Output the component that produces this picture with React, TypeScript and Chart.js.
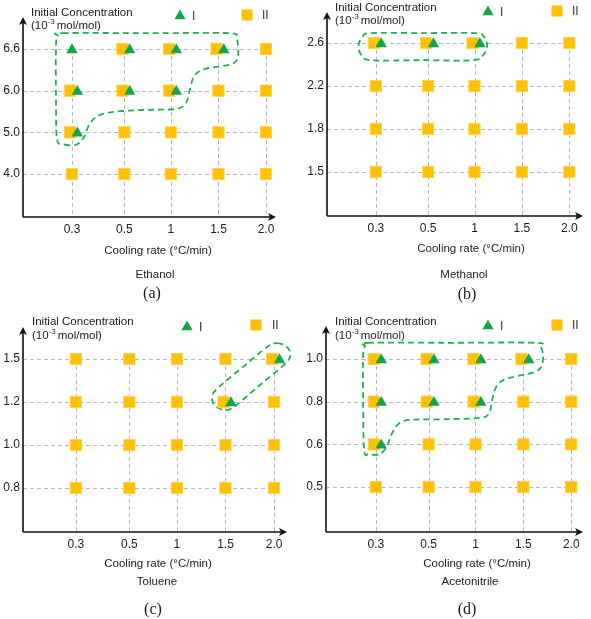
import React, { useEffect, useRef } from "react";
import { Chart, registerables } from "chart.js";

Chart.register(...registerables);
Chart.defaults.font.family = "'Liberation Sans', Arial, sans-serif";

// ---------------- data ----------------
const coolingRates = ["0.3", "0.5", "1", "1.5", "2.0"];

// rows: lowest level -> highest level, columns: cooling rates; 1 = form observed
const ethanolLevels = ["4.0", "5.0", "6.0", "6.6"];
const ethanolFormII = [
  [1, 1, 1, 1, 1],
  [1, 1, 1, 1, 1],
  [1, 1, 1, 1, 1],
  [0, 1, 1, 1, 1],
];
const ethanolFormI = [
  [0, 0, 0, 0, 0],
  [1, 0, 0, 0, 0],
  [1, 1, 1, 0, 0],
  [1, 1, 1, 1, 0],
];

const methanolLevels = ["1.5", "1.8", "2.2", "2.6"];
const methanolFormII = [
  [1, 1, 1, 1, 1],
  [1, 1, 1, 1, 1],
  [1, 1, 1, 1, 1],
  [1, 1, 1, 1, 1],
];
const methanolFormI = [
  [0, 0, 0, 0, 0],
  [0, 0, 0, 0, 0],
  [0, 0, 0, 0, 0],
  [1, 1, 1, 0, 0],
];

const tolueneLevels = ["0.8", "1.0", "1.2", "1.5"];
const tolueneFormII = [
  [1, 1, 1, 1, 1],
  [1, 1, 1, 1, 1],
  [1, 1, 1, 1, 1],
  [1, 1, 1, 1, 1],
];
const tolueneFormI = [
  [0, 0, 0, 0, 0],
  [0, 0, 0, 0, 0],
  [0, 0, 0, 1, 0],
  [0, 0, 0, 0, 1],
];

const acetonitrileLevels = ["0.5", "0.6", "0.8", "1.0"];
const acetonitrileFormII = [
  [1, 1, 1, 1, 1],
  [1, 1, 1, 1, 1],
  [1, 1, 1, 1, 1],
  [1, 1, 1, 1, 1],
];
const acetonitrileFormI = [
  [0, 0, 0, 0, 0],
  [1, 0, 0, 0, 0],
  [1, 1, 1, 0, 0],
  [1, 1, 1, 1, 0],
];

// form-I regions (dashed outlines), in axis units (rate index, level index)
const ethanolRegion = [
  [-0.19, 3.38], [1.61, 3.38], [3.22, 3.38], [3.38, 3.29], [3.42, 3.1], [3.42, 2.83],
  [3.3, 2.64], [2.74, 2.52], [2.52, 2.35], [2.43, 2.02], [2.35, 1.7], [2.14, 1.56],
  [1.61, 1.54], [0.99, 1.51], [0.58, 1.42], [0.37, 1.22], [0.25, 0.89], [0.08, 0.7],
  [-0.19, 0.72], [-0.31, 0.84], [-0.33, 1.78], [-0.33, 3.1], [-0.29, 3.31],
];
const methanolRegion = [
  [-0.1, 3.23], [0.97, 3.23], [2.04, 3.23], [2.24, 3.14], [2.3, 2.93], [2.22, 2.72],
  [2.0, 2.6], [0.97, 2.6], [-0.1, 2.6], [-0.3, 2.72], [-0.36, 2.93], [-0.28, 3.14],
];
const tolueneRegion = [
  [4.06, 3.37], [4.26, 3.28], [4.32, 3.14], [4.26, 2.93], [3.74, 2.42], [3.24, 1.93],
  [3.04, 1.81], [2.81, 1.91], [2.75, 2.14], [2.89, 2.35], [3.4, 2.84], [3.86, 3.28],
];
const acetonitrileRegion = [
  [-0.16, 3.38], [1.46, 3.38], [3.26, 3.38], [3.38, 3.28], [3.42, 3.09], [3.4, 2.86],
  [3.26, 2.7], [2.66, 2.53], [2.46, 2.34], [2.38, 2.04], [2.32, 1.73], [2.14, 1.62],
  [1.46, 1.59], [0.66, 1.57], [0.44, 1.45], [0.32, 1.22], [0.22, 0.94], [0.08, 0.77],
  [-0.14, 0.77], [-0.24, 0.87], [-0.26, 2.04], [-0.26, 3.09], [-0.22, 3.3],
];

// ---------------- layout ----------------
const CAT_X = [0, 1.08, 2.04, 3.02, 4];
const XH = 20;
const TEXT = "#1a1a1a";
const GREEN = "#12A64C";
const ORANGE = "#FFC000";

const PANELS = [
  {
    name: "Ethanol", tag: "(a)", levels: ethanolLevels, formI: ethanolFormI, formII: ethanolFormII, region: ethanolRegion,
    box: { left: 0, top: 0, w: 295, h: 310 },
    area: { l: 23, t: 18, r: 275, b: 217 }, anchor: { x0: 72, x4: 266, y0: 174, y3: 49 },
    title: { x: 31, y1: 13, y2: 26 },
    legend: { tx: 180, ty: 16, ix: 192, sx: 247, sy: 15, iix: 262 },
    bottom: { cx: 158, cy: 251, sx: 155, sy: 275, lx: 152, ly: 294 },
  },
  {
    name: "Methanol", tag: "(b)", levels: methanolLevels, formI: methanolFormI, formII: methanolFormII, region: methanolRegion,
    box: { left: 295, top: 0, w: 296, h: 310 },
    area: { l: 32, t: 13, r: 293, b: 216 }, anchor: { x0: 82, x4: 280, y0: 172, y3: 43 },
    title: { x: 40, y1: 8, y2: 21 },
    legend: { tx: 193, ty: 12, ix: 205, sx: 262, sy: 11, iix: 277 },
    bottom: { cx: 176, cy: 249, sx: 169, sy: 275, lx: 172, ly: 295 },
  },
  {
    name: "Toluene", tag: "(c)", levels: tolueneLevels, formI: tolueneFormI, formII: tolueneFormII, region: tolueneRegion,
    box: { left: 0, top: 310, w: 295, h: 309 },
    area: { l: 23, t: 18, r: 287, b: 222 }, anchor: { x0: 76, x4: 275, y0: 178, y3: 49 },
    title: { x: 32, y1: 12, y2: 26 },
    legend: { tx: 187, ty: 17, ix: 199, sx: 256, sy: 15, iix: 272 },
    bottom: { cx: 158, cy: 254, sx: 157, sy: 272, lx: 153, ly: 300 },
  },
  {
    name: "Acetonitrile", tag: "(d)", levels: acetonitrileLevels, formI: acetonitrileFormI, formII: acetonitrileFormII, region: acetonitrileRegion,
    box: { left: 295, top: 310, w: 296, h: 309 },
    area: { l: 31, t: 17, r: 293, b: 222 }, anchor: { x0: 82, x4: 282, y0: 177, y3: 49 },
    title: { x: 40, y1: 12, y2: 26 },
    legend: { tx: 193, ty: 16, ix: 205, sx: 262, sy: 15, iix: 277 },
    bottom: { cx: 182, cy: 254, sx: 175, sy: 272, lx: 172, ly: 300 },
  },
];

type Panel = (typeof PANELS)[number];

function closedSpline(ctx: CanvasRenderingContext2D, pts: number[][]) {
  const n = pts.length;
  ctx.beginPath();
  ctx.moveTo(pts[0][0], pts[0][1]);
  for (let i = 0; i < n; i++) {
    const p0 = pts[(i - 1 + n) % n];
    const p1 = pts[i];
    const p2 = pts[(i + 1) % n];
    const p3 = pts[(i + 2) % n];
    ctx.bezierCurveTo(
      p1[0] + (p2[0] - p0[0]) / 6, p1[1] + (p2[1] - p0[1]) / 6,
      p2[0] - (p3[0] - p1[0]) / 6, p2[1] - (p3[1] - p1[1]) / 6,
      p2[0], p2[1]
    );
  }
  ctx.closePath();
}

function drawTriangle(ctx: CanvasRenderingContext2D, cx: number, cy: number, r: number) {
  ctx.beginPath();
  ctx.moveTo(cx, cy - r);
  ctx.lineTo(cx + r * 0.866, cy + r * 0.5);
  ctx.lineTo(cx - r * 0.866, cy + r * 0.5);
  ctx.closePath();
  ctx.fill();
}

function makeChart(canvas: HTMLCanvasElement, p: Panel) {
  const { area, anchor, box } = p;
  const ux = (anchor.x4 - anchor.x0) / 4;
  const uy = (anchor.y0 - anchor.y3) / 3;
  const xMin = (area.l - anchor.x0) / ux;
  const xMax = (area.r - anchor.x0) / ux;
  const yMin = -(area.b - anchor.y0) / uy;
  const yMax = (anchor.y0 - area.t) / uy;

  const squares: { x: number; y: number }[] = [];
  const triangles: { x: number; y: number }[] = [];
  p.levels.forEach((_, r) => {
    coolingRates.forEach((_, c) => {
      const hasII = p.formII[r][c] === 1;
      const hasI = p.formI[r][c] === 1;
      const paired = hasI && hasII;
      if (hasII) squares.push({ x: CAT_X[c] + (paired ? -0.04 : 0), y: r });
      if (hasI) triangles.push({ x: CAT_X[c] + (paired ? 0.11 : 0), y: r - 0.02 });
    });
  });

  const decor = {
    id: "decor",
    beforeDatasetsDraw(chart: any) {
      const { ctx, chartArea } = chart;
      const xs = chart.scales.x;
      const ys = chart.scales.y;
      ctx.save();
      ctx.strokeStyle = "#b8b8b8";
      ctx.lineWidth = 1;
      ctx.setLineDash([4, 3]);
      const xEnd = xs.getPixelForValue(CAT_X[CAT_X.length - 1]) + 4;
      const yTop = ys.getPixelForValue(p.levels.length - 1);
      p.levels.forEach((_, r) => {
        const py = Math.round(ys.getPixelForValue(r)) + 0.5;
        ctx.beginPath();
        ctx.moveTo(chartArea.left, py);
        ctx.lineTo(xEnd, py);
        ctx.stroke();
      });
      CAT_X.forEach((v) => {
        const px = Math.round(xs.getPixelForValue(v)) + 0.5;
        ctx.beginPath();
        ctx.moveTo(px, yTop);
        ctx.lineTo(px, chartArea.bottom);
        ctx.stroke();
      });
      // form I region
      ctx.setLineDash([6, 4]);
      ctx.strokeStyle = "#1EAF50";
      ctx.lineWidth = 1.8;
      const pts = p.region.map(([a, b]) => [xs.getPixelForValue(a), ys.getPixelForValue(b)]);
      closedSpline(ctx, pts);
      ctx.stroke();
      ctx.restore();
    },
    afterDraw(chart: any) {
      const { ctx, chartArea } = chart;
      const { left: l, right: r, top: t, bottom: b } = chartArea;
      ctx.save();
      // axes with arrows
      ctx.setLineDash([]);
      ctx.strokeStyle = "#111";
      ctx.fillStyle = "#111";
      ctx.lineWidth = 1.6;
      ctx.beginPath();
      ctx.moveTo(l, b);
      ctx.lineTo(r - 4, b);
      ctx.moveTo(l, b);
      ctx.lineTo(l, t + 4);
      ctx.stroke();
      ctx.beginPath();
      ctx.moveTo(r + 1, b);
      ctx.lineTo(r - 7, b - 4);
      ctx.lineTo(r - 5, b);
      ctx.lineTo(r - 7, b + 4);
      ctx.closePath();
      ctx.fill();
      ctx.beginPath();
      ctx.moveTo(l, t - 1);
      ctx.lineTo(l - 4, t + 7);
      ctx.lineTo(l, t + 5);
      ctx.lineTo(l + 4, t + 7);
      ctx.closePath();
      ctx.fill();

      // y-axis title
      ctx.fillStyle = TEXT;
      ctx.textBaseline = "middle";
      ctx.textAlign = "left";
      const sans = "'Liberation Sans', Arial, sans-serif";
      ctx.font = `11.5px ${sans}`;
      ctx.fillText("Initial Concentration", p.title.x, p.title.y1);
      let tx = p.title.x;
      ctx.fillText("(10", tx, p.title.y2);
      tx += ctx.measureText("(10").width;
      ctx.font = `7.5px ${sans}`;
      ctx.fillText("-3", tx + 0.5, p.title.y2 - 4);
      tx += ctx.measureText("-3").width + 2.5;
      ctx.font = `11.5px ${sans}`;
      ctx.fillText("mol/mol)", tx, p.title.y2);

      // legend
      const lg = p.legend;
      ctx.fillStyle = GREEN;
      drawTriangle(ctx, lg.tx, lg.ty, 6.5);
      ctx.fillStyle = ORANGE;
      ctx.fillRect(lg.sx - 5.5, lg.sy - 5.5, 11, 11);
      ctx.fillStyle = "#333";
      ctx.font = `12px ${sans}`;
      ctx.fillText("I", lg.ix, lg.ty + 1);
      ctx.fillText("II", lg.iix, lg.sy + 1);

      // bottom texts
      const bt = p.bottom;
      ctx.fillStyle = TEXT;
      ctx.textAlign = "center";
      ctx.font = `11.5px ${sans}`;
      ctx.fillText("Cooling rate (\u00B0C/min)", bt.cx, bt.cy);
      ctx.fillText(p.name, bt.sx, bt.sy);
      ctx.font = "16px 'Liberation Serif', 'Times New Roman', serif";
      ctx.fillText(p.tag, bt.lx, bt.ly);
      ctx.restore();
    },
  };

  return new Chart(canvas, {
    type: "scatter",
    data: {
      datasets: [
        {
          label: "I",
          data: triangles,
          pointStyle: "triangle",
          pointRadius: 6.6,
          pointHoverRadius: 6.6,
          backgroundColor: GREEN,
          borderColor: GREEN,
          borderWidth: 0,
          clip: false,
        },
        {
          label: "II",
          data: squares,
          pointStyle: "rect",
          pointRadius: 8,
          pointHoverRadius: 8,
          backgroundColor: ORANGE,
          borderColor: "#FFD255",
          borderWidth: 1,
          clip: false,
        },
      ],
    },
    options: {
      responsive: false,
      animation: false,
      devicePixelRatio: 1,
      events: [],
      layout: {
        padding: { left: 0, top: area.t, right: box.w - area.r, bottom: box.h - area.b - XH },
      },
      plugins: { legend: { display: false }, tooltip: { enabled: false } },
      scales: {
        x: {
          type: "linear",
          min: xMin,
          max: xMax,
          afterBuildTicks: (s: any) => {
            s.ticks = CAT_X.map((v) => ({ value: v }));
          },
          afterFit: (s: any) => {
            s.height = XH;
          },
          grid: { display: false, drawTicks: false },
          border: { display: false },
          ticks: {
            callback: (_v: any, i: number) => coolingRates[i],
            font: { size: 12 },
            color: TEXT,
            padding: 5,
            maxRotation: 0,
            autoSkip: false,
          },
        },
        y: {
          type: "linear",
          min: yMin,
          max: yMax,
          afterBuildTicks: (s: any) => {
            s.ticks = p.levels.map((_, i) => ({ value: i }));
          },
          afterFit: (s: any) => {
            s.width = area.l;
          },
          grid: { display: false, drawTicks: false },
          border: { display: false },
          ticks: {
            callback: (_v: any, i: number) => p.levels[i],
            font: { size: 12 },
            color: TEXT,
            padding: 3,
            autoSkip: false,
          },
        },
      },
    },
    plugins: [decor],
  } as any);
}

function PanelChart({ panel }: { panel: Panel }) {
  const ref = useRef<HTMLCanvasElement>(null);
  useEffect(() => {
    if (!ref.current) return;
    const chart = makeChart(ref.current, panel);
    return () => chart.destroy();
  }, [panel]);
  const { box } = panel;
  return (
    <canvas
      ref={ref}
      width={box.w}
      height={box.h}
      style={{ position: "absolute", left: box.left, top: box.top, width: box.w, height: box.h, display: "block" }}
    />
  );
}

export default function App() {
  return (
    <div style={{ position: "absolute", left: 0, top: 0, width: 591, height: 619, background: "#fff" }}>
      {PANELS.map((p) => (
        <PanelChart key={p.tag} panel={p} />
      ))}
    </div>
  );
}
